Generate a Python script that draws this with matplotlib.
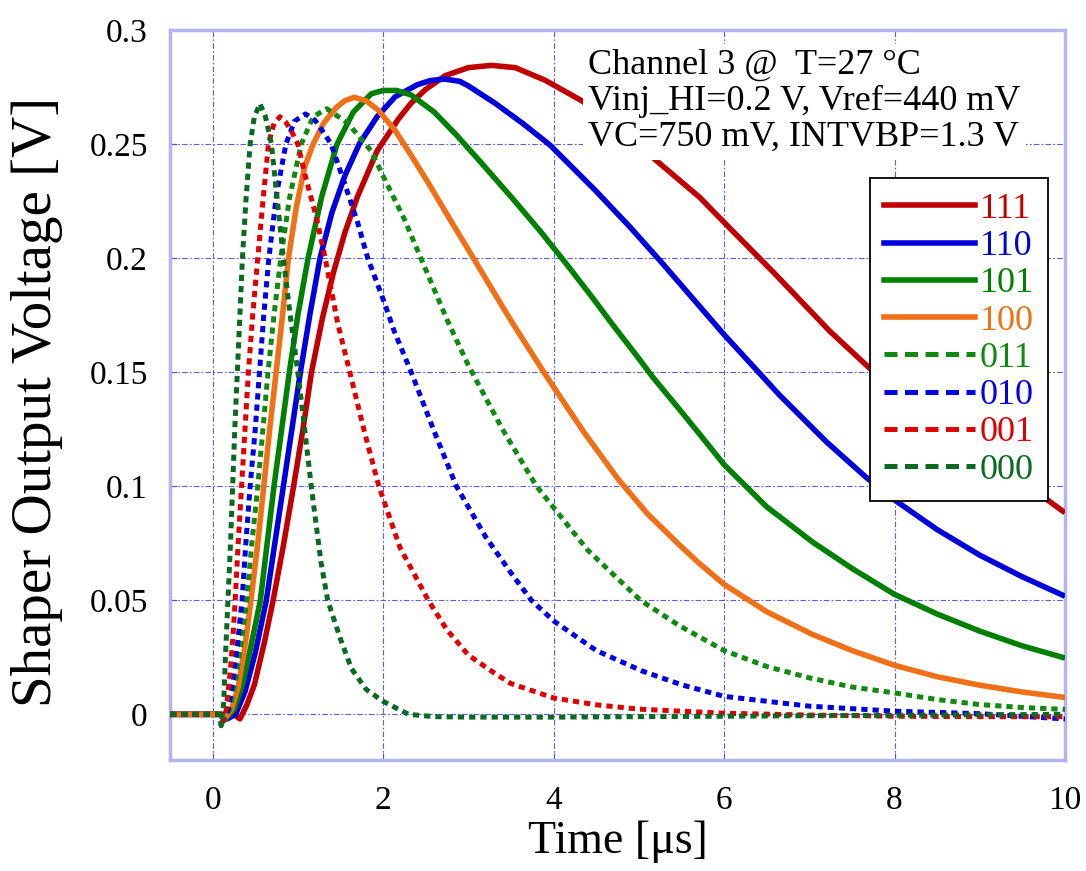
import matplotlib
matplotlib.use('Agg')
import matplotlib.pyplot as plt
from matplotlib.lines import Line2D

plt.rcParams['font.family'] = ['Liberation Serif', 'DejaVu Serif']

# shaper output pulses (time in us, voltage in V)
t_111 = [-0.5, 0.25, 0.32, 0.4, 0.49, 0.61, 0.71, 0.83, 0.95, 1.06, 1.16, 1.29, 1.42, 1.55, 1.7, 1.93,
         2.18, 2.33, 2.5, 2.73, 3.0, 3.27, 3.55, 3.9, 4.33, 4.8, 5.27, 5.71, 6.0, 6.6, 7.24, 7.7, 8.0,
         8.5, 9.0, 9.5, 10.0]
v_111 = [0, 0, -0.002, 0.004, 0.013, 0.032, 0.05, 0.074, 0.1, 0.125, 0.15, 0.174, 0.194, 0.211, 0.227, 0.247,
         0.261, 0.268, 0.274, 0.28, 0.2835, 0.2845, 0.2835, 0.278, 0.269, 0.256, 0.2407, 0.2268, 0.2157, 0.193,
         0.168, 0.152, 0.1437, 0.1295, 0.1153, 0.102, 0.0884]

t_110 = [-0.5, 0.1, 0.17, 0.27, 0.38, 0.5, 0.63, 0.73, 0.83, 0.93, 1.03, 1.14, 1.26, 1.4, 1.55, 1.72, 1.93,
         2.14, 2.4, 2.55, 2.72, 2.9, 3.0, 3.31, 3.64, 3.96, 4.49, 4.9, 5.27, 5.71, 6.0, 6.65, 7.2, 7.67, 8.0,
         8.5, 9.0, 9.5, 10.0]
v_110 = [0, 0, -0.002, 0.0, 0.01, 0.027, 0.05, 0.075, 0.1, 0.125, 0.15, 0.175, 0.2, 0.22, 0.236, 0.25, 0.262,
         0.2707, 0.276, 0.2778, 0.2785, 0.2775, 0.2755, 0.268, 0.259, 0.2495, 0.2297, 0.2135, 0.198, 0.179,
         0.1665, 0.14, 0.1195, 0.1038, 0.094, 0.081, 0.0698, 0.0603, 0.0518]

t_101 = [-0.5, 0.1, 0.15, 0.25, 0.35, 0.45, 0.56, 0.64, 0.72, 0.81, 0.9, 1.0, 1.12, 1.28, 1.46, 1.65, 1.86,
         2.0, 2.16, 2.33, 2.6, 2.86, 3.17, 3.51, 3.84, 4.16, 4.45, 4.69, 5.0, 5.16, 5.47, 5.71, 6.0, 6.5, 7.04,
         7.5, 8.0, 8.5, 9.0, 9.5, 10.0]
v_101 = [0, 0, -0.002, 0.002, 0.013, 0.03, 0.05, 0.075, 0.1, 0.125, 0.15, 0.175, 0.2, 0.227, 0.25, 0.264,
         0.272, 0.2735, 0.2735, 0.2715, 0.264, 0.254, 0.241, 0.2265, 0.212, 0.197, 0.183, 0.171, 0.156, 0.148,
         0.134, 0.123, 0.1095, 0.091, 0.0755, 0.064, 0.0526, 0.044, 0.0365, 0.03, 0.0247]

t_100 = [-0.5, 0.1, 0.14, 0.22, 0.3, 0.38, 0.45, 0.53, 0.6, 0.67, 0.745, 0.82, 0.89, 0.98, 1.08, 1.18, 1.3,
         1.45, 1.55, 1.66, 1.8, 1.94, 2.14, 2.33, 2.53, 2.8, 3.06, 3.3, 3.51, 3.92, 4.35, 4.76, 5.1, 5.47, 5.7,
         6.0, 6.5, 7.04, 7.5, 8.0, 8.5, 9.0, 9.5, 10.0]
v_100 = [0, 0, -0.002, 0.002, 0.012, 0.03, 0.05, 0.075, 0.1, 0.125, 0.15, 0.175, 0.2, 0.222, 0.24, 0.25,
         0.259, 0.266, 0.269, 0.2705, 0.269, 0.265, 0.256, 0.245, 0.233, 0.216, 0.2, 0.185, 0.172, 0.148, 0.124,
         0.103, 0.088, 0.0745, 0.0665, 0.057, 0.045, 0.035, 0.028, 0.0215, 0.0165, 0.0128, 0.0098, 0.0074]

t_011 = [-0.5, 0.1, 0.13, 0.2, 0.27, 0.33, 0.4, 0.46, 0.53, 0.59, 0.65, 0.72, 0.8, 0.9, 1.04, 1.18, 1.34,
         1.59, 1.86, 2.0, 2.25, 2.5, 2.75, 3.0, 3.4, 3.8, 4.4, 5.02, 5.47, 6.0, 6.5, 7.0, 7.5, 8.0, 8.5, 9.0,
         9.5, 10.0]
v_011 = [0, 0, -0.003, 0.002, 0.015, 0.03, 0.05, 0.075, 0.1, 0.125, 0.15, 0.175, 0.2, 0.226, 0.25, 0.262,
         0.2655, 0.259, 0.247, 0.236, 0.217, 0.195, 0.173, 0.153, 0.125, 0.1, 0.072, 0.05, 0.039, 0.028, 0.021,
         0.016, 0.012, 0.0094, 0.0065, 0.0043, 0.003, 0.0022]

t_010 = [-0.5, 0.1, 0.12, 0.18, 0.24, 0.29, 0.345, 0.39, 0.44, 0.5, 0.55, 0.6, 0.66, 0.75, 0.86, 0.96, 1.09,
         1.2, 1.31, 1.39, 1.55, 1.706, 1.82, 2.02, 2.13, 2.33, 2.6, 2.86, 3.2, 3.5, 3.74, 4.0, 4.5, 5.04, 5.5,
         6.0, 7.0, 8.0, 9.0, 10.0]
v_010 = [0, 0, -0.003, 0.002, 0.015, 0.03, 0.05, 0.075, 0.1, 0.125, 0.15, 0.175, 0.2, 0.228, 0.25, 0.26,
         0.2632, 0.2605, 0.2546, 0.25, 0.2326, 0.215, 0.2, 0.18, 0.168, 0.15, 0.124, 0.1, 0.078, 0.062, 0.05,
         0.041, 0.028, 0.019, 0.013, 0.0079, 0.0036, 0.0014, 0.0003, -0.002]

t_001 = [-0.5, 0.1, 0.12, 0.16, 0.21, 0.24, 0.265, 0.3, 0.34, 0.38, 0.42, 0.47, 0.53, 0.59, 0.655, 0.72,
         0.79, 0.86, 0.92, 1.0, 1.08, 1.216, 1.32, 1.47, 1.61, 1.78, 1.95, 2.2, 2.53, 2.75, 3.0, 3.31, 3.5,
         4.0, 4.5, 5.0, 6.0, 7.0, 8.0, 9.0, 10.0]
v_001 = [0, 0, -0.003, 0.002, 0.02, 0.035, 0.05, 0.075, 0.1, 0.125, 0.15, 0.175, 0.2, 0.225, 0.25, 0.259,
         0.262, 0.2595, 0.256, 0.25, 0.237, 0.218, 0.2, 0.171, 0.15, 0.124, 0.1, 0.073, 0.05, 0.037, 0.026,
         0.018, 0.0135, 0.0072, 0.0042, 0.0023, 0.0005, -0.0003, -0.0008, -0.001, -0.001]

t_000 = [-0.5, 0.08, 0.1, 0.13, 0.15, 0.18, 0.21, 0.235, 0.26, 0.29, 0.32, 0.35, 0.39, 0.44, 0.49, 0.555,
         0.62, 0.69, 0.76, 0.83, 0.91, 1.0, 1.08, 1.157, 1.27, 1.35, 1.5, 1.63, 1.8, 2.0, 2.3, 2.6, 3.0, 4.0,
         5.0, 6.0, 8.0, 10.0]
v_000 = [0, 0, -0.005, 0.005, 0.025, 0.05, 0.075, 0.1, 0.125, 0.15, 0.175, 0.2, 0.225, 0.25, 0.262, 0.2677,
         0.262, 0.25, 0.225, 0.2, 0.175, 0.15, 0.125, 0.1, 0.067, 0.05, 0.033, 0.02, 0.011, 0.0057, 0.0, -0.001,
         -0.0012, -0.0012, -0.001, -0.0008, -0.0004, 0.0]

series = [
    ('111', t_111, v_111, '#c00000', '-'),
    ('110', t_110, v_110, '#0000dd', '-'),
    ('101', t_101, v_101, '#008000', '-'),
    ('100', t_100, v_100, '#f07018', '-'),
    ('011', t_011, v_011, '#118a11', 'dash'),
    ('010', t_010, v_010, '#0000e6', 'dash'),
    ('001', t_001, v_001, '#e00000', 'dash'),
    ('000', t_000, v_000, '#0a6a22', 'dash'),
]

fig = plt.figure(figsize=(10.86, 8.71), dpi=100)
ax = fig.add_axes([170 / 1086, 1 - 760 / 871, 895 / 1086, 730 / 871])

handles = []
for name, t, v, c, ls in series:
    if ls == '-':
        ax.plot(t, v, color=c, lw=4.0, solid_capstyle='butt', solid_joinstyle='round', zorder=3)
        handles.append(Line2D([], [], color=c, lw=4.0, label=name))
    else:
        ax.plot(t, v, color=c, lw=3.6, linestyle=(0, (1.25, 1.0)), zorder=4)
        handles.append(Line2D([], [], color=c, lw=3.6, linestyle=(0, (2.6, 1.5)), label=name))

ax.set_xlim(-0.5, 10)
ax.set_ylim(-0.02, 0.3)
ax.set_xticks([0, 2, 4, 6, 8, 10])
ax.set_yticks([0, 0.05, 0.1, 0.15, 0.2, 0.25, 0.3])
ax.set_yticklabels(['0', '0.05', '0.1', '0.15', '0.2', '0.25', '0.3'])
ax.grid(True, color='#5a5af2', linestyle=(0, (5, 2, 1.5, 2)), linewidth=0.8)
ax.tick_params(axis='both', direction='in', length=5, color='#5050e0', labelsize=24)
ax.tick_params(axis='y', pad=16)
ax.tick_params(axis='x', pad=18)
for sp in ax.spines.values():
    sp.set_color('#b4b4f2')
    sp.set_linewidth(2.5)

ax.set_xlabel('Time [μs]', fontsize=33)
ax.xaxis.set_label_coords(0.5, -0.083)
ax.set_ylabel('Shaper Output Voltage [V]', fontsize=41)
ax.yaxis.set_label_coords(-0.12, 0.49)

ax.text(0.467, 0.974, 'Channel 3 @  T=27 °C\nVinj_HI=0.2 V, Vref=440 mV\nVC=750 mV, INTVBP=1.3 V',
        transform=ax.transAxes, fontsize=26, va='top', ha='left', linespacing=1.12,
        bbox=dict(facecolor='white', edgecolor='none', pad=4), zorder=5)

leg = ax.legend(handles=handles, loc='upper left', bbox_to_anchor=(0.782, 0.797), fontsize=26,
                frameon=True, fancybox=False, framealpha=1, edgecolor='black', borderpad=0.4,
                labelspacing=0.11, handlelength=2.5, handletextpad=0.15, borderaxespad=0)
leg.get_frame().set_linewidth(1.3)
for txt, h in zip(leg.get_texts(), handles):
    txt.set_color(h.get_color())

fig.savefig('out.png', dpi=100)
